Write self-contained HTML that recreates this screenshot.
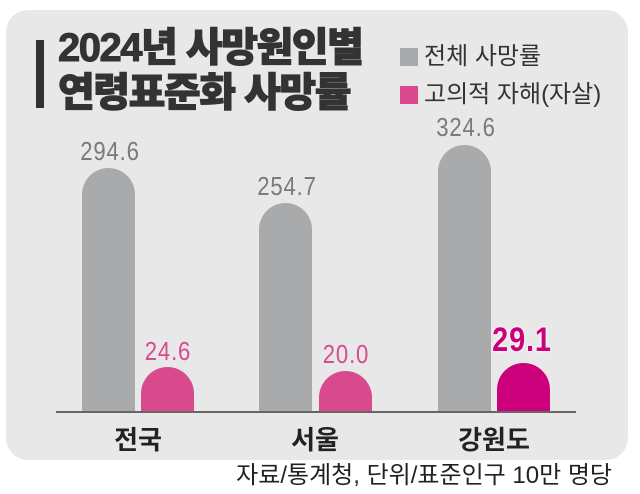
<!DOCTYPE html>
<html><head><meta charset="utf-8"><style>
body{margin:0;width:640px;height:494px;background:#fff;position:relative;overflow:hidden;font-family:"Liberation Sans","Noto Sans CJK KR",sans-serif}
.p{position:absolute;left:6px;top:10px;width:622px;height:450px;background:#e8e8e9;border-radius:22px}
.a{position:absolute}
.g{position:absolute;background:#a9aaac;border-radius:27px 27px 0 0;width:53px}
.k{position:absolute;background:#d84a8d;border-radius:27px 27px 0 0;width:53px}
.v{position:absolute;width:100px;text-align:center;font-size:26px;color:#7a7a7c;letter-spacing:1px;transform:scaleX(.85)}
.c{position:absolute;width:120px;text-align:center;font-size:26px;font-weight:bold;color:#222}
</style></head><body>
<div class="p"></div>
<div class="a" style="left:36px;top:40px;width:8px;height:68px;background:#333"></div>
<div class="a" style="left:58px;top:26px;font-size:40px;font-weight:900;color:#333;line-height:45px;letter-spacing:-1.5px;-webkit-text-stroke:1px #333;white-space:nowrap">2024년 사망원인별<br>연령표준화 사망률</div>
<div class="a" style="left:400px;top:48px;width:18px;height:18px;background:#a9aaac"></div>
<div class="a" style="left:400px;top:86px;width:18px;height:18px;background:#d84a8d"></div>
<div class="a" style="left:424px;top:38px;font-size:24px;color:#333;line-height:38px;white-space:nowrap">전체 사망률<br>고의적 자해(자살)</div>
<div class="g" style="left:82px;top:168px;height:244px"></div>
<div class="k" style="left:141px;top:367px;height:45px"></div>
<div class="g" style="left:259px;top:203px;height:209px"></div>
<div class="k" style="left:319px;top:371px;height:41px"></div>
<div class="g" style="left:438px;top:145px;height:267px"></div>
<div class="k" style="left:497px;top:363px;height:49px;background:#cc007a"></div>
<div class="a" style="left:56px;top:411px;width:520px;height:2px;background:#666"></div>
<div class="v" style="left:60px;top:136px">294.6</div>
<div class="v" style="left:237px;top:171px">254.7</div>
<div class="v" style="left:416px;top:112px">324.6</div>
<div class="v" style="left:118px;top:336px;color:#d84a8d">24.6</div>
<div class="v" style="left:296px;top:339px;color:#d84a8d">20.0</div>
<div class="v" style="left:462px;top:321px;color:#cc007a;font-size:34px;font-weight:bold;width:120px;text-shadow:0 0 3px #fff,0 0 3px #fff">29.1</div>
<div class="c" style="left:78px;top:420px">전국</div>
<div class="c" style="left:255px;top:420px">서울</div>
<div class="c" style="left:434px;top:420px">강원도</div>
<div class="a" style="right:28px;top:455px;font-size:24px;color:#222;white-space:nowrap">자료/통계청, 단위/표준인구 10만 명당</div>
</body></html>
